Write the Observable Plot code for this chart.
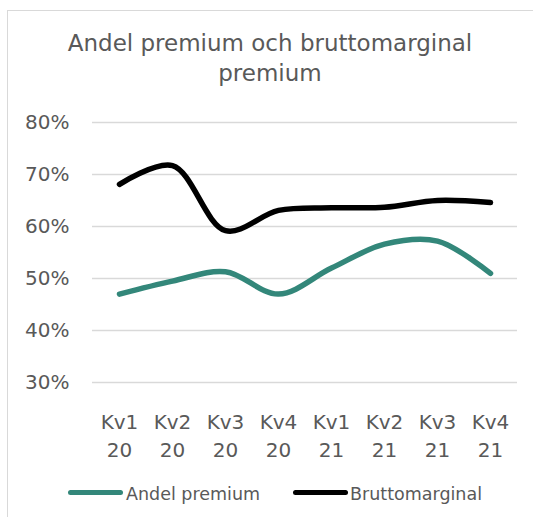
<!DOCTYPE html>
<html>
<head>
<meta charset="utf-8">
<script src="https://cdn.jsdelivr.net/npm/d3@7"></script>
<script src="https://cdn.jsdelivr.net/npm/@observablehq/plot@0.6"></script>
<style>
  html, body { margin: 0; padding: 0; background: #fff; overflow: hidden; }
  body { width: 533px; height: 517px; position: relative; font-family: "DejaVu Sans", sans-serif; color: #595959; }
  #frame { position: absolute; left: 7px; top: 10px; width: 600px; height: 600px; border: 1.5px solid #d9d9d9; box-sizing: border-box; }
  #title { position: absolute; left: 0; top: 28px; width: 540px; text-align: center; font-size: 23px; line-height: 30px; color: #595959; }
  #chart { position: absolute; left: 0; top: 100px; }
  .sw { position: absolute; height: 5px; border-radius: 3px; }
  .lt { position: absolute; font-size: 17.5px; line-height: 20px; color: #595959; white-space: nowrap; }
</style>
</head>
<body>
<div id="frame"></div>
<div id="title">Andel premium och bruttomarginal<br>premium</div>
<div id="chart"></div>
<div id="legend"></div>
<script>
const categories = ["Kv1\n20", "Kv2\n20", "Kv3\n20", "Kv4\n20", "Kv1\n21", "Kv2\n21", "Kv3\n21", "Kv4\n21"];
const andelPremium = [0.470, 0.495, 0.513, 0.470, 0.520, 0.566, 0.572, 0.510];
const bruttomarginal = [0.681, 0.717, 0.592, 0.631, 0.636, 0.637, 0.650, 0.646];
const yTicks = [0.3, 0.4, 0.5, 0.6, 0.7, 0.8];
const seriesNames = ["Andel premium", "Bruttomarginal"];
const seriesColors = ["#33877a", "#000000"];

const rows = [];
categories.forEach((c, i) => {
  rows.push({cat: c, series: seriesNames[0], value: andelPremium[i]});
  rows.push({cat: c, series: seriesNames[1], value: bruttomarginal[i]});
});

const chart = Plot.plot({
  width: 533,
  height: 360,
  marginTop: 22,
  marginBottom: 78,
  marginLeft: 92,
  marginRight: 16,
  style: {fontFamily: "DejaVu Sans", background: "transparent", overflow: "visible"},
  x: {type: "point", domain: categories, padding: 0.5, axis: null},
  y: {domain: [0.3, 0.8], axis: null},
  color: {domain: seriesNames, range: seriesColors},
  marks: [
    Plot.ruleY(yTicks, {stroke: "#d9d9d9", strokeWidth: 1.5}),
    Plot.text(yTicks, {y: d => d, frameAnchor: "left", text: d => `${Math.round(d * 100)}%`, textAnchor: "end", dx: -23, fontSize: 20, fill: "#595959"}),
    Plot.text(categories, {x: d => d, frameAnchor: "bottom", text: d => d, lineAnchor: "top", dy: 26, lineHeight: 1.42, fontSize: 20, fill: "#595959"}),
    Plot.line(rows, {x: "cat", y: "value", z: "series", stroke: "series", strokeWidth: 5.5, curve: "catmull-rom", strokeLinecap: "round", strokeLinejoin: "round"})
  ]
});
document.getElementById("chart").appendChild(chart);

const legend = document.getElementById("legend");
const legendPos = [{sw: 68, tx: 126}, {sw: 293, tx: 350}];
seriesNames.forEach((name, i) => {
  const sw = document.createElement("div");
  sw.className = "sw";
  sw.style.left = legendPos[i].sw + "px";
  sw.style.top = "489.5px";
  sw.style.width = "55px";
  sw.style.background = seriesColors[i];
  legend.appendChild(sw);
  const t = document.createElement("div");
  t.className = "lt";
  t.style.left = legendPos[i].tx + "px";
  t.style.top = "484px";
  t.textContent = name;
  legend.appendChild(t);
});
</script>
</body>
</html>
